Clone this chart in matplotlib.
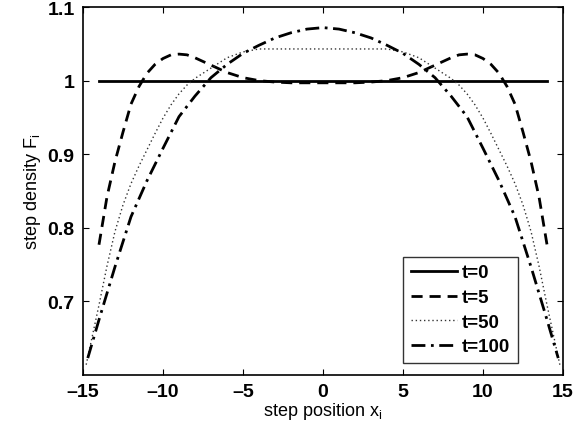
import numpy as np
import matplotlib
matplotlib.use('Agg')
import matplotlib.pyplot as plt

# --- datos ---
x_t0 = [-14, 14]
F_t0 = [1.0, 1.0]

x_t5 = [-14, -13.5, -13, -12.5, -12, -11.5, -11, -10.5, -10, -9.5, -9, -8.5, -8, -7, -6, -5, -4, -3, -2, -1, 0,
        1, 2, 3, 4, 5, 6, 7, 8, 8.5, 9, 9.5, 10, 10.5, 11, 11.5, 12, 12.5, 13, 13.5, 14]
F_t5 = [0.777, 0.842, 0.89, 0.93, 0.968, 0.992, 1.01, 1.022, 1.030, 1.035, 1.036, 1.035, 1.031, 1.021, 1.011,
        1.004, 1.0, 0.998, 0.997, 0.997, 0.997,
        0.997, 0.997, 0.998, 1.0, 1.004, 1.011, 1.021, 1.031, 1.035, 1.036, 1.035, 1.030, 1.022, 1.01, 0.992,
        0.968, 0.93, 0.89, 0.842, 0.777]

x_t50 = [-14.8, -14, -13.5, -13, -12.5, -12, -11.5, -11, -10.5, -10, -9.5, -9, -8.5, -8, -7.5, -7, -6, -5, -4,
         -3, -2, -1, 0, 1, 2, 3,
         4, 5, 6, 7, 7.5, 8, 8.5, 9, 9.5, 10, 10.5, 11, 11.5, 12, 12.5, 13, 13.5, 14, 14.8]
F_t50 = [0.614, 0.695, 0.748, 0.795, 0.831, 0.860, 0.884, 0.906, 0.928, 0.949, 0.967, 0.982, 0.994, 1.003,
         1.010, 1.017, 1.031, 1.039, 1.043,
         1.043, 1.043, 1.043, 1.043, 1.043, 1.043, 1.043,
         1.043, 1.039, 1.031, 1.017, 1.010, 1.003, 0.994, 0.982, 0.967, 0.949, 0.928, 0.906, 0.884, 0.860,
         0.831, 0.795, 0.748, 0.695, 0.614]

x_t100 = [-14.7, -14, -13, -12, -11, -10, -9, -8, -7, -6, -5, -4, -3, -2, -1, 0,
          1, 2, 3, 4, 5, 6, 7, 8, 9, 10, 11, 12, 13, 14, 14.7]
F_t100 = [0.623, 0.675, 0.747, 0.815, 0.864, 0.908, 0.951, 0.979, 1.004, 1.022, 1.037, 1.048, 1.058, 1.065,
          1.070, 1.072,
          1.070, 1.065, 1.058, 1.048, 1.037, 1.022, 1.004, 0.979, 0.951, 0.908, 0.864, 0.815, 0.747, 0.675, 0.623]

etiquetas = ['t=0', 't=5', 't=50', 't=100']

plt.rcParams['font.family'] = ['Liberation Sans', 'DejaVu Sans']
plt.rcParams['mathtext.fontset'] = 'custom'
plt.rcParams['mathtext.rm'] = 'Liberation Sans'

fig = plt.figure(figsize=(5.86, 4.35), dpi=100)
ax = fig.add_axes([0.1416, 0.1356, 0.8192, 0.846])

ax.plot(x_t0, F_t0, color='black', lw=2.0, linestyle='-', label=etiquetas[0])
ax.plot(x_t5, F_t5, color='black', lw=2.0, linestyle=(0, (4, 2.5)), label=etiquetas[1])
ax.plot(x_t50, F_t50, color='#333333', lw=1.0, linestyle=(0, (1, 2)), label=etiquetas[2])
ax.plot(x_t100, F_t100, color='black', lw=2.0, linestyle=(0, (5, 2, 1, 2)), label=etiquetas[3])

ax.set_xlim(-15, 15)
ax.set_ylim(0.6, 1.1)
ax.set_xticks([-15, -10, -5, 0, 5, 10, 15])
ax.set_xticklabels(['\u201315', '\u201310', '\u20135', '0', '5', '10', '15'])
ax.set_yticks([0.7, 0.8, 0.9, 1.0, 1.1])
ax.set_yticklabels(['0.7', '0.8', '0.9', '1', '1.1'])

ax.tick_params(direction='in', top=True, right=True, length=4, width=0.8, labelsize=14, pad=6)
for lab in ax.get_xticklabels() + ax.get_yticklabels():
    lab.set_fontweight('bold')
for s in ax.spines.values():
    s.set_linewidth(1.2)

ax.set_xlabel(r'step position x$\mathregular{_i}$', fontsize=13, labelpad=0)
ax.set_ylabel(r'step density F$\mathregular{_i}$', fontsize=13, labelpad=3)

leg = ax.legend(loc='lower right', bbox_to_anchor=(0.906, 0.033), frameon=True, fancybox=False,
                edgecolor='black', prop={'weight': 'bold', 'size': 13.5}, handlelength=2.5,
                handletextpad=0.25, labelspacing=0.4, borderpad=0.4, borderaxespad=0)
leg.get_frame().set_linewidth(1.0)

fig.savefig('out.png', dpi=100)
